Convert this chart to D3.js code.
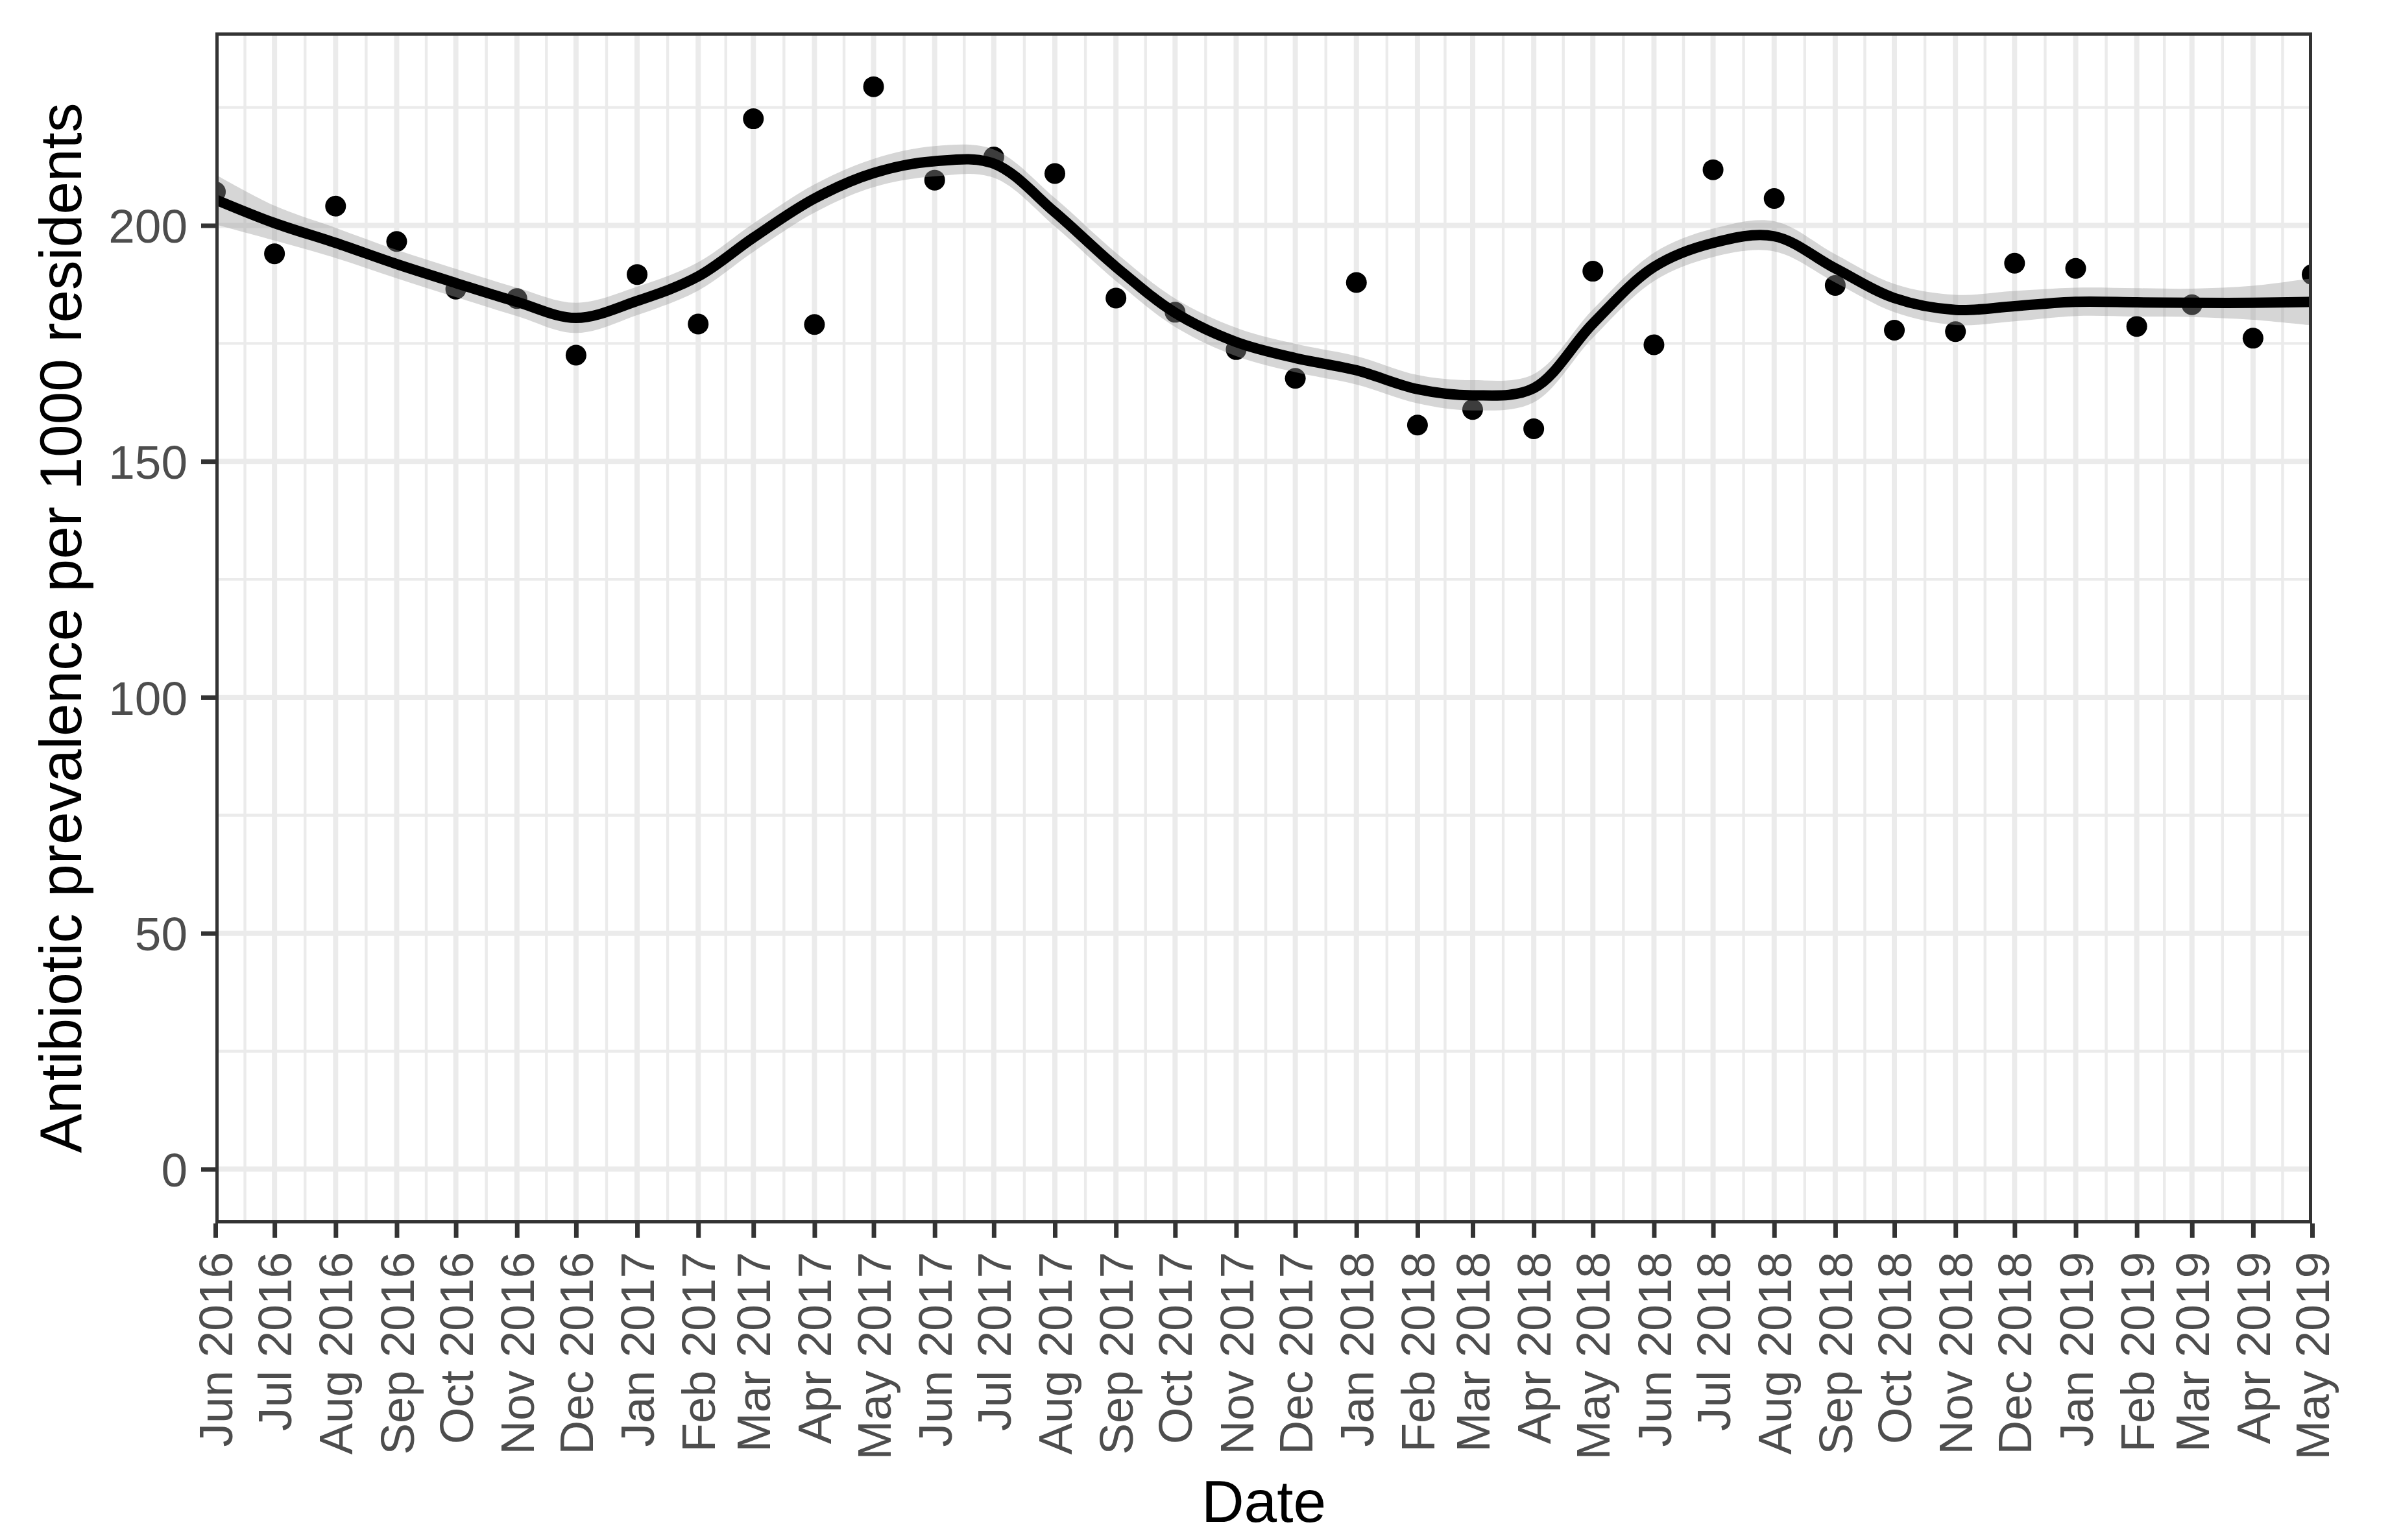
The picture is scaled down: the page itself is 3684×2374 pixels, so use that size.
<!DOCTYPE html>
<html>
<head>
<meta charset="utf-8">
<script src="https://cdn.jsdelivr.net/npm/d3@7"></script>
<style>
html, body { margin: 0; padding: 0; background: #ffffff; }
svg { display: block; }
</style>
</head>
<body>
<script>
// ---------------- data ----------------
const months = [
  "2016-06","2016-07","2016-08","2016-09","2016-10","2016-11","2016-12",
  "2017-01","2017-02","2017-03","2017-04","2017-05","2017-06","2017-07","2017-08","2017-09","2017-10","2017-11","2017-12",
  "2018-01","2018-02","2018-03","2018-04","2018-05","2018-06","2018-07","2018-08","2018-09","2018-10","2018-11","2018-12",
  "2019-01","2019-02","2019-03","2019-04","2019-05"
];
const prevalence = [
  207.1, 194.0, 204.1, 196.6, 186.5, 184.5, 172.5,
  189.6, 179.1, 222.6, 179.0, 229.4, 209.6, 214.5, 211.0, 184.6, 181.6, 173.7, 167.6,
  187.9, 157.7, 161.0, 156.9, 190.3, 174.7, 211.8, 205.7, 187.3, 177.8, 177.5, 192.0,
  190.9, 178.6, 183.2, 176.1, 189.6
];
const smoothFit = [
  205.5, 200.5, 196.3, 191.8, 187.8, 183.8, 180.4,
  184.0, 189.2, 197.4, 205.7, 211.1, 213.6, 213.1, 202.8, 191.2, 181.5, 175.3, 171.9,
  169.3, 165.3, 164.0, 165.5, 179.2, 191.2, 196.3, 197.7, 190.9, 184.6, 182.1, 182.9,
  183.8, 183.7, 183.6, 183.6, 183.8
];
const smoothLower = [
  200.2, 196.8, 193.1, 188.8, 184.8, 180.8, 177.2,
  181.0, 186.2, 194.4, 202.7, 208.1, 210.4, 210.1, 199.8, 188.2, 178.5, 172.3, 168.9,
  166.3, 162.3, 160.8, 162.5, 176.2, 188.2, 193.3, 194.5, 187.9, 181.6, 178.9, 179.7,
  180.8, 180.7, 180.6, 180.0, 178.8
];
const smoothUpper = [
  210.8, 204.2, 199.5, 194.8, 190.8, 186.8, 183.6,
  187.0, 192.2, 200.4, 208.7, 214.1, 216.8, 216.1, 205.8, 194.2, 184.5, 178.3, 174.9,
  172.3, 168.3, 167.2, 168.5, 182.2, 194.2, 199.3, 200.9, 193.9, 187.6, 185.3, 186.1,
  186.8, 186.7, 186.6, 187.2, 188.8
];
const yTicks = [0, 50, 100, 150, 200];
const yMinorTicks = [25, 75, 125, 175, 225];
const yLimits = [-11.5, 240.9];
const xTitle = "Date";
const yTitle = "Antibiotic prevalence per 1000 residents";

// ---------------- layout ----------------
const W = 3684, H = 2374;
const panel = { left: 332, right: 3564, top: 50, bottom: 1886 };
const FONT = "'Liberation Sans', Arial, Helvetica, sans-serif";
const tickFont = 73, titleFont = 91;

const parse = d3.timeParse("%Y-%m");
const dates = months.map(parse);
const rows = dates.map((d, i) => ({
  date: d, value: prevalence[i], fit: smoothFit[i], lo: smoothLower[i], hi: smoothUpper[i]
}));

const x = d3.scaleTime()
  .domain([dates[0], dates[dates.length - 1]])
  .range([panel.left, panel.right]);
const y = d3.scaleLinear()
  .domain(yLimits)
  .range([panel.bottom, panel.top]);

const xMinor = dates.slice(1).map((d, i) => new Date((d.getTime() + dates[i].getTime()) / 2));

const svg = d3.select("body").append("svg")
  .attr("width", W).attr("height", H)
  .attr("viewBox", `0 0 ${W} ${H}`);

svg.append("rect").attr("width", W).attr("height", H).attr("fill", "#ffffff");

svg.append("defs").append("clipPath").attr("id", "panelClip")
  .append("rect")
  .attr("x", panel.left).attr("y", panel.top)
  .attr("width", panel.right - panel.left).attr("height", panel.bottom - panel.top);

const plot = svg.append("g").attr("clip-path", "url(#panelClip)");

// grid
const gridColor = "#EBEBEB";
plot.append("g").selectAll("line").data(yMinorTicks).join("line")
  .attr("x1", panel.left).attr("x2", panel.right)
  .attr("y1", d => y(d)).attr("y2", d => y(d))
  .attr("stroke", gridColor).attr("stroke-width", 4.4);
plot.append("g").selectAll("line").data(xMinor).join("line")
  .attr("x1", d => x(d)).attr("x2", d => x(d))
  .attr("y1", panel.top).attr("y2", panel.bottom)
  .attr("stroke", gridColor).attr("stroke-width", 4.4);
plot.append("g").selectAll("line").data(yTicks).join("line")
  .attr("x1", panel.left).attr("x2", panel.right)
  .attr("y1", d => y(d)).attr("y2", d => y(d))
  .attr("stroke", gridColor).attr("stroke-width", 8);
plot.append("g").selectAll("line").data(dates).join("line")
  .attr("x1", d => x(d)).attr("x2", d => x(d))
  .attr("y1", panel.top).attr("y2", panel.bottom)
  .attr("stroke", gridColor).attr("stroke-width", 8);

// points (drawn beneath the ribbon, as in the original)
plot.append("g").selectAll("circle").data(rows).join("circle")
  .attr("cx", d => x(d.date)).attr("cy", d => y(d.value))
  .attr("r", 16).attr("fill", "#000000");

// confidence ribbon
const curve = d3.curveCatmullRom.alpha(0.5);
plot.append("path").datum(rows)
  .attr("d", d3.area().x(d => x(d.date)).y0(d => y(d.lo)).y1(d => y(d.hi)).curve(curve))
  .attr("fill", "#999999").attr("fill-opacity", 0.4);

// smooth line
plot.append("path").datum(rows)
  .attr("d", d3.line().x(d => x(d.date)).y(d => y(d.fit)).curve(curve))
  .attr("fill", "none").attr("stroke", "#000000").attr("stroke-width", 16)
  .attr("stroke-linejoin", "round");

// panel border
svg.append("rect")
  .attr("x", panel.left + 2.5).attr("y", panel.top + 2.5)
  .attr("width", panel.right - panel.left - 5).attr("height", panel.bottom - panel.top - 5)
  .attr("fill", "none").attr("stroke", "#333333").attr("stroke-width", 5);

// axes
const tickLen = 22;
const xAxis = svg.append("g")
  .attr("transform", `translate(0,${panel.bottom})`)
  .call(d3.axisBottom(x).tickValues(dates).tickFormat(d3.timeFormat("%b %Y")).tickSize(tickLen));
xAxis.select(".domain").remove();
xAxis.selectAll(".tick line").attr("stroke", "#333333").attr("stroke-width", 7);
xAxis.selectAll(".tick text")
  .attr("transform", "rotate(-90)")
  .attr("x", -44).attr("y", 0).attr("dy", "0.35em")
  .attr("text-anchor", "end")
  .attr("fill", "#4D4D4D")
  .style("font-family", FONT).style("font-size", tickFont + "px");

const yAxis = svg.append("g")
  .attr("transform", `translate(${panel.left},0)`)
  .call(d3.axisLeft(y).tickValues(yTicks).tickFormat(d3.format("d")).tickSize(tickLen).tickPadding(21));
yAxis.select(".domain").remove();
yAxis.selectAll(".tick line").attr("stroke", "#333333").attr("stroke-width", 7);
yAxis.selectAll(".tick text")
  .attr("fill", "#4D4D4D")
  .attr("dy", "0.36em")
  .style("font-family", FONT).style("font-size", tickFont + "px");

// titles
svg.append("text")
  .attr("x", (panel.left + panel.right) / 2).attr("y", 2346)
  .attr("text-anchor", "middle")
  .attr("fill", "#000000")
  .style("font-family", FONT).style("font-size", titleFont + "px")
  .text(xTitle);

svg.append("text")
  .attr("transform", `translate(125,${(panel.top + panel.bottom) / 2}) rotate(-90)`)
  .attr("text-anchor", "middle")
  .attr("fill", "#000000")
  .style("font-family", FONT).style("font-size", titleFont + "px")
  .text(yTitle);
</script>
</body>
</html>
